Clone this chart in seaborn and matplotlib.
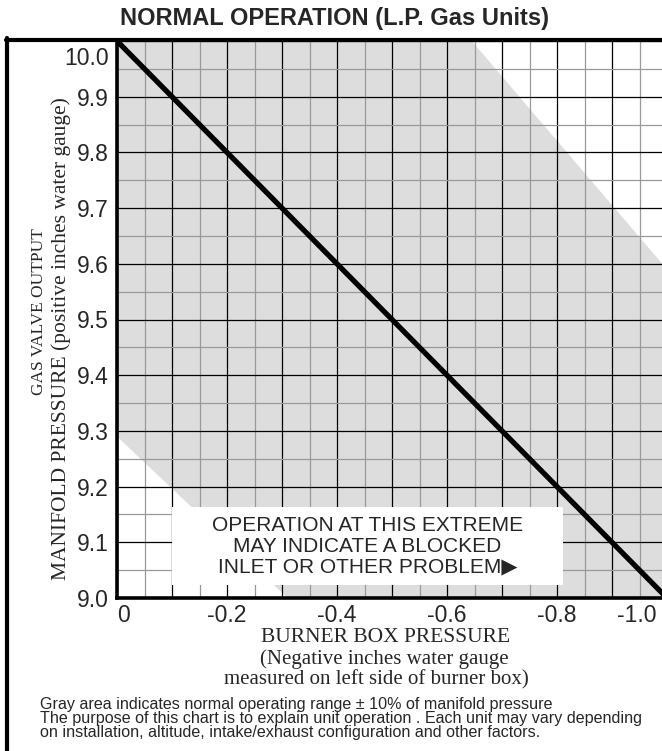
import numpy as np
import matplotlib
matplotlib.use("Agg")
import matplotlib.pyplot as plt
import seaborn as sns
from matplotlib.transforms import ScaledTranslation
from matplotlib.patches import Rectangle
from matplotlib.lines import Line2D

# ---- data ----
burner_box = [0.0, -1.0]          # negative inches w.g.
manifold = [10.0, 9.0]            # inches w.g.
band_x = [0.0, 0.0, -0.645, -1.0, -1.0, -0.31]
band_y = [9.29, 10.0, 10.0, 9.59, 9.0, 9.0]
x_ticks = [0.0, -0.1, -0.2, -0.3, -0.4, -0.5, -0.6, -0.7, -0.8, -0.9, -1.0]
x_labels = ["0", "", "-0.2", "", "-0.4", "", "-0.6", "", "-0.8", "", "-1.0"]
x_minor = [-0.05, -0.15, -0.25, -0.35, -0.45, -0.55, -0.65, -0.75, -0.85, -0.95]
y_ticks = [9.0, 9.1, 9.2, 9.3, 9.4, 9.5, 9.6, 9.7, 9.8, 9.9, 10.0]
y_labels = ["9.0", "9.1", "9.2", "9.3", "9.4", "9.5", "9.6", "9.7", "9.8", "9.9", "10.0"]
y_minor = [9.05, 9.15, 9.25, 9.35, 9.45, 9.55, 9.65, 9.75, 9.85, 9.95]

sns.set_theme(style="white")
plt.rcParams["font.family"] = ["Liberation Sans", "DejaVu Sans"]

W, H = 662, 751
fig = plt.figure(figsize=(W / 100, H / 100), dpi=100)
ax = fig.add_axes([117 / W, (H - 598) / H, 550 / W, 557 / H])

ax.fill(band_x, band_y, color="#dddddd", lw=0, zorder=1)
sns.lineplot(x=burner_box, y=manifold, ax=ax, color="black", lw=3.8, zorder=6, sort=False)

ax.set_xlim(0, -1.0)
ax.set_ylim(9.0, 10.0)
ax.set_xticks(x_ticks)
ax.set_xticklabels(x_labels, fontsize=16.5)
ax.set_xticks(x_minor, minor=True)
ax.set_yticks(y_ticks)
ax.set_yticklabels(y_labels, fontsize=16.5)
ax.set_yticks(y_minor, minor=True)
ax.tick_params(which="both", length=0)
ax.tick_params(axis="x", pad=4)
ax.tick_params(axis="y", pad=6)
ax.grid(which="major", color="black", lw=0.9, zorder=2)
ax.grid(which="minor", color="#999999", lw=0.9, zorder=2)
ax.set_axisbelow(False)
ax.set_xlabel("")
ax.set_ylabel("")

for s in ["top", "right"]:
    ax.spines[s].set_visible(False)
for s in ["left", "bottom"]:
    ax.spines[s].set_color("black")
    ax.spines[s].set_linewidth(2.6)
    ax.spines[s].set_zorder(7)

# shift edge tick labels
for lab in ax.get_yticklabels():
    if lab.get_text() == "10.0":
        lab.set_transform(lab.get_transform() + ScaledTranslation(0, -0.15, fig.dpi_scale_trans))
for lab in ax.get_xticklabels():
    if lab.get_text() == "-1.0":
        lab.set_transform(lab.get_transform() + ScaledTranslation(-0.30, 0, fig.dpi_scale_trans))
    if lab.get_text() == "0":
        lab.set_transform(lab.get_transform() + ScaledTranslation(0.06, 0, fig.dpi_scale_trans))

# warning box
ax.add_patch(Rectangle((-0.1, 9.023), -0.71, 0.14, facecolor="white", edgecolor="none", zorder=4))
ax.text(-0.455, 9.093, "OPERATION AT THIS EXTREME\nMAY INDICATE A BLOCKED\nINLET OR OTHER PROBLEM\u25B6",
        ha="center", va="center", fontsize=15, linespacing=1.1,
        family=["Liberation Sans Narrow", "Liberation Sans", "DejaVu Sans"], zorder=8)

# frame lines
fig.add_artist(Line2D([7 / W, 7 / W], [0, (H - 38) / H], transform=fig.transFigure, color="black", lw=3))
fig.add_artist(Line2D([5.5 / W, 1.0], [(H - 39.5) / H, (H - 39.5) / H], transform=fig.transFigure, color="black", lw=3))

# title
fig.text(335 / W, (H - 18) / H, "NORMAL OPERATION (L.P. Gas Units)", ha="center", va="center",
         fontsize=17, fontweight="bold")

# y axis labels
serif = ["Liberation Serif", "DejaVu Serif"]
fig.text(39 / W, (H - 312) / H, "GAS VALVE OUTPUT", rotation=90, ha="center", va="center",
         fontsize=12.5, family=serif)
fig.text(61 / W, (H - 339) / H, "MANIFOLD PRESSURE (positive inches water gauge)", rotation=90,
         ha="center", va="center", fontsize=15.5, family=serif)

# x axis labels
fig.text(386 / W, (H - 638) / H, "BURNER BOX PRESSURE", ha="center", va="center", fontsize=15.5, family=serif)
fig.text(384 / W, (H - 659) / H, "(Negative inches water gauge", ha="center", va="center", fontsize=15, family=serif)
fig.text(376 / W, (H - 680) / H, "measured on left side of burner box)", ha="center", va="center", fontsize=15, family=serif)

# footnote
notes = ["Gray area indicates normal operating range \u00B1 10% of manifold pressure",
         "The purpose of this chart is to explain unit operation . Each unit may vary depending",
         "on installation, altitude, intake/exhaust configuration and other factors."]
for i, t in enumerate(notes):
    fig.text(40 / W, (H - 704 - 14 * i) / H, t, ha="left", va="center", fontsize=11.6)

fig.savefig("out.png", dpi=100)
